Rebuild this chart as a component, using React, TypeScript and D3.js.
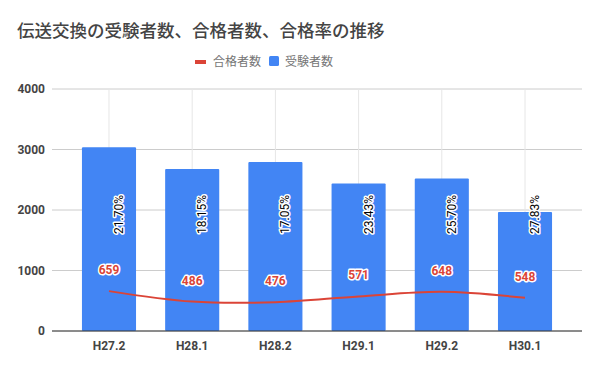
import React from "react";
import * as d3 from "d3";

const categories = ["H27.2", "H28.1", "H28.2", "H29.1", "H29.2", "H30.1"];
const examinees = [3037, 2678, 2792, 2437, 2521, 1969];
const passers = [659, 486, 476, 571, 648, 548];
const passRates = ["21.70%", "18.15%", "17.05%", "23.43%", "25.70%", "27.83%"];
const yTicks = [0, 1000, 2000, 3000, 4000];

const W = 600;
const H = 371;
const left = 52;
const right = 582;
const top = 89;
const bottom = 331;

export default function App() {
  const x = d3
    .scaleBand<string>()
    .domain(categories)
    .range([left, right])
    .paddingInner(0.35)
    .paddingOuter(0.36);
  const y = d3.scaleLinear().domain([0, 4000]).range([bottom, top]);
  const cx = (c: string) => (x(c) as number) + x.bandwidth() / 2;

  const line = d3
    .line<number>()
    .x((_, i) => cx(categories[i]))
    .y((d) => y(d))
    .curve(d3.curveCatmullRom.alpha(0.5));

  const halo = {
    stroke: "#fff",
    strokeWidth: 3,
    paintOrder: "stroke" as const,
    strokeLinejoin: "round" as const,
  };

  return (
    <svg
      width={W}
      height={H}
      style={{ position: "absolute", left: 0, top: 0, background: "#fff" }}
      fontFamily="Roboto, 'Noto Sans CJK JP', sans-serif"
    >
      <rect width={W} height={H} fill="#fff" />
      <text
        x={17}
        y={37}
        fontSize={17.5}
        fontFamily="'Noto Sans CJK JP', sans-serif"
        fontWeight={500}
        fill="#444"
      >
        伝送交換の受験者数、合格者数、合格率の推移
      </text>

      {/* legend */}
      <rect x={195} y={60} width={11} height={4} fill="#DB4437" />
      <text x={213} y={66} fontSize={12} fill="#757575" fontFamily="'Noto Sans CJK JP', sans-serif">
        合格者数
      </text>
      <rect x={269} y={56} width={10} height={10} rx={1.5} fill="#4285F4" />
      <text x={285} y={66} fontSize={12} fill="#757575" fontFamily="'Noto Sans CJK JP', sans-serif">
        受験者数
      </text>

      {/* gridlines */}
      {yTicks.map((t) => (
        <line key={t} x1={left} x2={right} y1={y(t)} y2={y(t)} stroke="#cccccc" strokeWidth={1} />
      ))}
      {categories.map((c) => (
        <line key={c} x1={cx(c)} x2={cx(c)} y1={top} y2={bottom} stroke="#e6e6e6" strokeWidth={1} />
      ))}

      {/* bars */}
      {categories.map((c, i) => (
        <rect
          key={c}
          x={x(c)}
          y={y(examinees[i])}
          width={x.bandwidth()}
          height={bottom - y(examinees[i])}
          fill="#4285F4"
          rx={1}
        />
      ))}

      <line x1={left} x2={right} y1={bottom} y2={bottom} stroke="#333" strokeWidth={1} />

      {/* line */}
      <path d={line(passers) || ""} fill="none" stroke="#DB4437" strokeWidth={2} />

      {/* pass labels */}
      {categories.map((c, i) => (
        <text
          key={c}
          x={cx(c)}
          y={y(passers[i]) - 17}
          textAnchor="middle"
          fontSize={12}
          fontWeight={700}
          fill="#DB4437"
          {...halo}
        >
          {passers[i]}
        </text>
      ))}

      {/* rate labels */}
      {categories.map((c, i) => (
        <text
          key={c}
          transform={`translate(${cx(c) + 14},${195}) rotate(-90)`}
          textAnchor="end"
          fontSize={12}
          fill="#000"
          {...halo}
        >
          {passRates[i]}
        </text>
      ))}

      {/* y axis labels */}
      {yTicks.map((t) => (
        <text
          key={t}
          x={45}
          y={y(t) + 4}
          textAnchor="end"
          fontSize={12}
          fontWeight={700}
          fill="#444"
        >
          {t}
        </text>
      ))}

      {/* x axis labels */}
      {categories.map((c) => (
        <text key={c} x={cx(c)} y={350} textAnchor="middle" fontSize={12} fontWeight={700} fill="#444">
          {c}
        </text>
      ))}
    </svg>
  );
}
